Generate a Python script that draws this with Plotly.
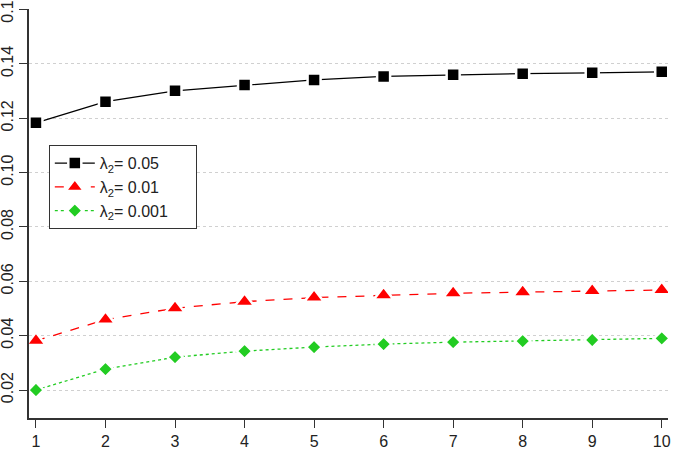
import plotly.graph_objects as go

x_vals = [1, 2, 3, 4, 5, 6, 7, 8, 9, 10]
lam_005 = [0.1183, 0.1261, 0.1301, 0.1322, 0.1341, 0.1354, 0.1360, 0.1364, 0.1367, 0.1371]
lam_001 = [0.0381, 0.0459, 0.0501, 0.0525, 0.0540, 0.0549, 0.0556, 0.0560, 0.0564, 0.0568]
lam_0001 = [0.0200, 0.0277, 0.0321, 0.0343, 0.0358, 0.0369, 0.0376, 0.0380, 0.0384, 0.0390]
names = ["λ<sub>2</sub>= 0.05", "λ<sub>2</sub>= 0.01", "λ<sub>2</sub>= 0.001"]
y_ticks = [0.02, 0.04, 0.06, 0.08, 0.10, 0.12, 0.14, 0.16]

PAD = "\u00a0" * 5  # widen legend box like the reference

fig = go.Figure()
styles = [
    (lam_005, "black", "solid", "square", 13),
    (lam_001, "red", "dash", "triangle-up", 17),
    (lam_0001, "#22cc22", "dot", "diamond", 12),
]
for (vals, col, dash, sym, size), nm in zip(styles, names):
    fig.add_trace(go.Scatter(
        x=x_vals, y=vals, name=nm + PAD, mode="lines+markers",
        line=dict(color=col, width=1.3, dash=dash),
        marker=dict(symbol=sym, size=size, color=col, line=dict(color="white", width=2.5)),
    ))

tick_font = dict(family="Liberation Sans, Arial, sans-serif", size=16, color="#222222")
axis_common = dict(
    showline=True, linecolor="#333333", linewidth=1.5,
    ticks="outside", ticklen=8, tickcolor="#333333", tickwidth=1.3,
    zeroline=False, ticklabeloverflow="allow", automargin=False,
)
fig.update_xaxes(range=[0.9, 10.09], tickvals=x_vals, showgrid=False, tickfont=tick_font, **axis_common)
fig.update_yaxes(range=[0.0097, 0.1602], tickvals=y_ticks, ticktext=[f"{v:.2f}" for v in y_ticks],
                 tickangle=-90, showgrid=True, gridcolor="#d0d0d0", griddash="dot", gridwidth=1,
                 tickfont=tick_font, **axis_common)

fig.update_layout(
    width=674, height=454,
    margin=dict(l=29, r=6, t=9, b=36),
    plot_bgcolor="white", paper_bgcolor="white",
    font=dict(family="Liberation Sans, Arial, sans-serif", size=16, color="#222222"),
    showlegend=True,
    legend=dict(x=0.031, y=0.667, xanchor="left", yanchor="top",
                bordercolor="#333333", borderwidth=1, bgcolor="white",
                font=dict(family="Liberation Sans, Arial, sans-serif", size=16, color="#222222"),
                itemwidth=40, tracegroupgap=0),
)
fig.write_html("out.html")
